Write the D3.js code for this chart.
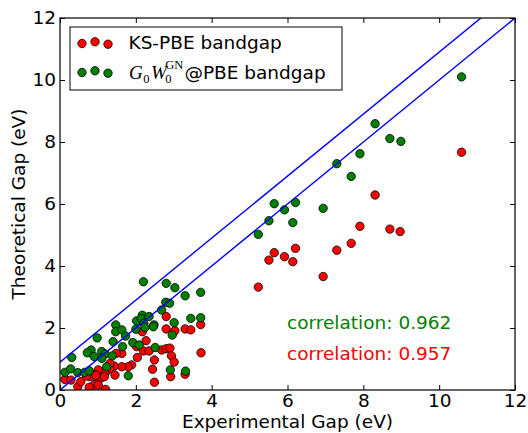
<!DOCTYPE html>
<html><head><meta charset="utf-8">
<script src="https://cdn.jsdelivr.net/npm/d3@7"></script>
<style>body{margin:0;background:#fff}</style>
</head><body>
<svg id="c" width="528" height="433"></svg>
<script>
// KS-PBE bandgap (red)
const ksX = [10.59, 8.31, 7.91, 8.70, 8.97, 7.68, 7.30, 5.65, 6.21, 5.51, 5.92, 6.14, 6.94, 5.23,
  2.80, 2.80, 3.03, 3.30, 3.45, 3.71, 3.72, 2.17, 2.27, 2.02, 2.20, 2.35, 2.68, 2.80, 2.90, 2.04, 2.49, 2.94, 3.01,
  2.44, 2.92, 3.30, 2.49, 1.89, 1.80, 1.63, 1.43, 1.32, 1.45, 1.19, 1.01, 0.92, 0.79, 0.70, 0.99, 1.10,
  0.90, 0.77, 1.01, 1.20, 0.47, 0.13, 0.29, 0.55, 1.32, 1.17, 0.95, 1.63, 1.48];
const ksY = [7.67, 6.29, 5.28, 5.19, 5.11, 4.73, 4.51, 4.43, 4.57, 4.19, 4.30, 4.14, 3.66, 3.32,
  2.37, 1.97, 1.91, 1.97, 1.94, 2.11, 1.20, 1.88, 1.59, 1.40, 1.26, 1.26, 1.29, 1.33, 1.35, 1.05, 0.97, 1.10, 0.90,
  0.67, 0.43, 0.51, 0.25, 0.81, 0.75, 0.75, 0.77, 0.68, 0.48, 0.54, 0.65, 0.48, 0.43, 0.45, 0.27, 0.40,
  0.16, 0.09, 0.16, 0.02, 0.11, 0.34, 0.32, 0.27, 0.86, 0.43, 0.48, 1.18, 1.18];
// G0W0^GN@PBE bandgap (green)
const gwX = [10.59, 8.99, 8.31, 8.70, 7.91, 7.30, 7.68, 6.94, 5.65, 6.21, 5.92, 5.51, 6.14, 5.23,
  2.20, 2.80, 3.03, 3.71, 3.30, 2.79, 2.89, 2.68, 3.45, 3.71, 3.01, 2.96, 2.17, 2.02, 2.14, 2.21, 2.35, 2.48,
  2.46, 2.24, 2.00, 1.47, 1.47, 1.63, 1.73, 0.98, 1.40, 1.92, 2.09, 0.82, 0.72, 1.10, 0.90, 1.19, 1.38,
  1.10, 0.31, 0.13, 0.28, 0.47, 0.65, 0.77, 1.23, 1.80, 2.91, 3.31, 1.65, 2.51];
const gwY = [10.10, 8.02, 8.59, 8.11, 7.62, 7.30, 6.89, 5.86, 6.01, 6.05, 5.81, 5.46, 5.40, 5.02,
  3.49, 3.44, 3.30, 3.15, 3.04, 2.83, 2.80, 2.58, 2.31, 2.33, 2.17, 1.77, 2.41, 2.23, 2.31, 2.15, 2.37, 2.10,
  2.04, 2.02, 1.96, 2.10, 1.88, 1.94, 1.74, 1.68, 1.56, 1.53, 1.45, 1.29, 1.20, 1.24, 1.08, 1.16, 1.10,
  1.02, 1.05, 0.57, 0.68, 0.56, 0.57, 0.62, 0.75, 0.46, 0.65, 0.61, 1.40, 1.37];
const xTicks = [0, 2, 4, 6, 8, 10, 12];
const yTicks = [0, 2, 4, 6, 8, 10, 12];
const refOffsets = [0, 0.9];           // y = x + offset
const corrLabels = ["correlation: 0.962", "correlation: 0.957"];
const seriesNames = ["KS-PBE bandgap", "@PBE bandgap"];

const svg = d3.select("#c");
const L = 60, R = 515, T = 18, B = 390;
const x = d3.scaleLinear().domain([0, 12]).range([L, R]);
const y = d3.scaleLinear().domain([0, 12]).range([B, T]);
const sans = "DejaVu Sans, Bitstream Vera Sans, sans-serif";
const FS = 18.5;
const RED = "#ff0000", GREEN = "#007f00", BLUE = "#0000ff";

svg.append("defs").append("clipPath").attr("id", "clip")
  .append("rect").attr("x", L).attr("y", T).attr("width", R - L).attr("height", B - T);

const plot = svg.append("g").attr("clip-path", "url(#clip)");
function scatter(xs, ys, col) {
  plot.append("g").selectAll("circle").data(xs.map((d, i) => [d, ys[i]])).join("circle")
    .attr("cx", d => x(d[0])).attr("cy", d => y(d[1])).attr("r", 4.2)
    .attr("fill", col).attr("stroke", "#000").attr("stroke-width", 0.8);
}
scatter(ksX, ksY, RED);
scatter(gwX, gwY, GREEN);

const line = d3.line().x(d => x(d[0])).y(d => y(d[1]));
refOffsets.forEach(o => {
  plot.append("path").attr("d", line([[0, o], [12, 12 + o]]))
    .attr("fill", "none").attr("stroke", BLUE).attr("stroke-width", 1.4);
});

// frame
svg.append("rect").attr("x", L).attr("y", T).attr("width", R - L).attr("height", B - T)
  .attr("fill", "none").attr("stroke", "#000").attr("stroke-width", 1.2);

// axes with inward ticks
const tl = 5;
const axB = d3.axisBottom(x).tickValues(xTicks).tickSize(-tl).tickPadding(4).tickFormat(d3.format("d"));
const axL = d3.axisLeft(y).tickValues(yTicks).tickSize(-tl).tickPadding(4).tickFormat(d3.format("d"));
const axT = d3.axisTop(x).tickValues(xTicks).tickSize(-tl).tickFormat("");
const axR = d3.axisRight(y).tickValues(yTicks).tickSize(-tl).tickFormat("");
function style(g) {
  g.select(".domain").remove();
  g.selectAll("line").attr("stroke", "#000").attr("stroke-width", 1);
  g.selectAll("text").attr("font-family", sans).attr("font-size", FS).attr("fill", "#000");
}
svg.append("g").attr("transform", `translate(0,${B})`).call(axB).call(style);
svg.append("g").attr("transform", `translate(${L},0)`).call(axL).call(style);
svg.append("g").attr("transform", `translate(0,${T})`).call(axT).call(style);
svg.append("g").attr("transform", `translate(${R},0)`).call(axR).call(style);

// axis labels
svg.append("text").attr("x", (L + R) / 2).attr("y", 428).attr("text-anchor", "middle")
  .attr("font-family", sans).attr("font-size", FS).text("Experimental Gap (eV)");
svg.append("text").attr("transform", `translate(25,${(T + B) / 2}) rotate(-90)`).attr("text-anchor", "middle")
  .attr("font-family", sans).attr("font-size", FS).text("Theoretical Gap (eV)");

// correlation labels
svg.append("text").attr("x", 287).attr("y", 329).attr("font-family", sans).attr("font-size", FS)
  .attr("fill", GREEN).text(corrLabels[0]);
svg.append("text").attr("x", 287).attr("y", 360).attr("font-family", sans).attr("font-size", FS)
  .attr("fill", RED).text(corrLabels[1]);

// legend
const lg = svg.append("g");
lg.append("rect").attr("x", 70).attr("y", 27).attr("width", 272).attr("height", 63)
  .attr("fill", "#fff").attr("stroke", "#000").attr("stroke-width", 1);
const mx = [82, 95, 108], myOff = [0.5, -1.2, 1.2];
[[43, RED], [72, GREEN]].forEach(([cy, col]) => {
  mx.forEach((xx, i) => lg.append("circle").attr("cx", xx).attr("cy", cy + myOff[i]).attr("r", 4.2)
    .attr("fill", col).attr("stroke", "#000").attr("stroke-width", 0.8));
});
lg.append("text").attr("x", 128.5).attr("y", 48.5).attr("font-family", sans).attr("font-size", FS).text(seriesNames[0]);

// math label G_0 W_0^GN as one text element with tspans
const serif = "Liberation Serif, DejaVu Serif, serif";
const base = 78.5;
const pieces = [
  { t: "G", fam: serif, size: 19, dy: 0, it: true, adv: 0.5 },
  { t: "0", fam: serif, size: 12.5, dy: 4.5, it: false, adv: 1.5 },
  { t: "W", fam: serif, size: 19, dy: 0, it: true, adv: -1.5 },
  { t: "0", fam: serif, size: 12.5, dy: 4.5, it: false, adv: null, stack: true },
  { t: "GN", fam: serif, size: 12.5, dy: -9.5, it: false, adv: 1, stackEnd: true },
  { t: seriesNames[1], fam: sans, size: FS, dy: 0, it: false, adv: 0 }
];
// measure
pieces.forEach(p => {
  const tmp = svg.append("text").attr("font-family", p.fam).attr("font-size", p.size)
    .attr("font-style", p.it ? "italic" : "normal").text(p.t);
  p.w = tmp.node().getComputedTextLength();
  tmp.remove();
});
let cx = 129, stackW = 0;
const mt = lg.append("text").attr("y", base);
pieces.forEach(p => {
  mt.append("tspan").attr("x", cx).attr("y", base + p.dy).attr("font-family", p.fam)
    .attr("font-size", p.size).attr("font-style", p.it ? "italic" : "normal").text(p.t);
  if (p.stack) { stackW = p.w; }
  else if (p.stackEnd) { cx += Math.max(stackW, p.w) + p.adv; }
  else { cx += p.w + p.adv; }
});
</script>
</body></html>
